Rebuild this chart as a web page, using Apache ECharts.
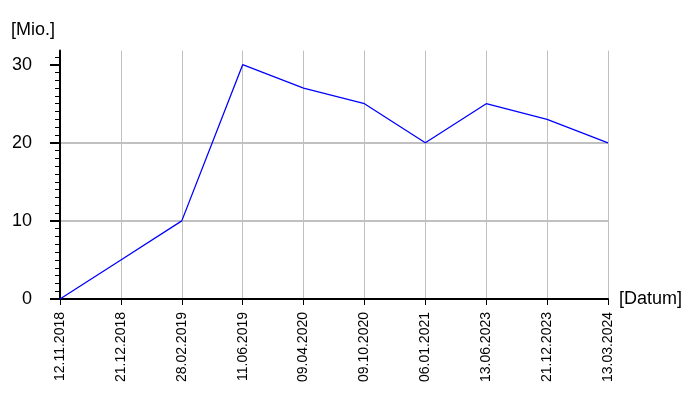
<!DOCTYPE html>
<html>
<head>
<meta charset="utf-8">
<script src="https://cdn.jsdelivr.net/npm/echarts@6/dist/echarts.min.js"></script>
<style>html,body{margin:0;padding:0;background:#fff}#c{width:700px;height:400px}</style>
</head>
<body>
<div id="c"></div>
<script>
var dates = ['12.11.2018','21.12.2018','28.02.2019','11.06.2019','09.04.2020','09.10.2020','06.01.2021','13.06.2023','21.12.2023','13.03.2024'];
var values = [0, 5, 10, 30, 27, 25, 20, 25, 23, 20];
var yTicks = [0, 10, 20, 30];
var yMax = 31.8;
var font = 'Liberation Sans, Arial, sans-serif';

var chart = echarts.init(document.getElementById('c'), null, {renderer: 'canvas'});
chart.setOption({
  animation: false,
  backgroundColor: '#fff',
  grid: {left: 60, right: 92, top: 50.6, bottom: 101, containLabel: false, outerBoundsMode: 'none'},
  xAxis: {
    type: 'category',
    data: dates,
    boundaryGap: false,
    name: '[Datum]',
    nameLocation: 'end',
    nameGap: 11,
    nameTextStyle: {color: '#000', fontSize: 18, fontFamily: font, padding: [3, 0, 0, 0]},
    axisLine: {lineStyle: {color: '#000', width: 2}},
    axisTick: {show: true, length: 6, lineStyle: {color: '#000', width: 1}},
    axisLabel: {rotate: 90, margin: 13, color: '#000', fontSize: 14, fontFamily: font, interval: 0},
    splitLine: {show: true, lineStyle: {color: '#c0c0c0', width: 1}}
  },
  yAxis: {
    type: 'value',
    min: 0,
    max: yMax,
    interval: 10,
    name: '[Mio.]',
    nameLocation: 'end',
    nameGap: 12,
    nameTextStyle: {color: '#000', fontSize: 18, fontFamily: font, align: 'right', padding: [0, 5, 0, 0]},
    axisLine: {show: true, lineStyle: {color: '#000', width: 2}},
    axisTick: {show: true, length: 10, customValues: yTicks, lineStyle: {color: '#000', width: 2}},
    minorTick: {show: true, splitNumber: 10, length: 5, lineStyle: {color: '#000', width: 1}},
    axisLabel: {margin: 28, color: '#000', fontSize: 18, fontFamily: font, customValues: yTicks},
    splitLine: {show: true, showMaxLine: false, lineStyle: {color: '#c0c0c0', width: 2}}
  },
  series: [{
    type: 'line',
    data: values,
    symbol: 'none',
    lineStyle: {color: '#0000ff', width: 1.3},
    itemStyle: {color: '#0000ff'}
  }]
});
</script>
</body>
</html>
